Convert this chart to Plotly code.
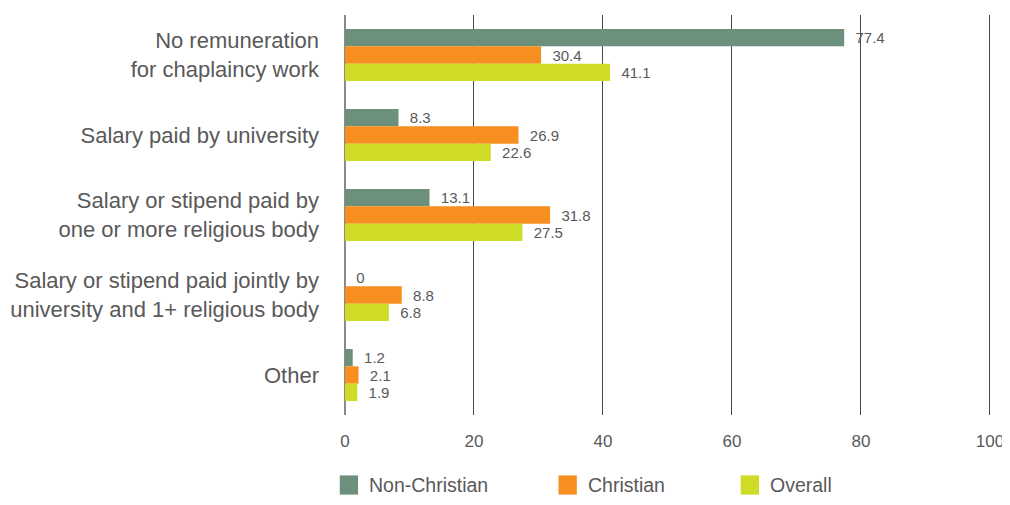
import plotly.graph_objects as go

categories = [
    "No remuneration<br>for chaplaincy work",
    "Salary paid by university",
    "Salary or stipend paid by<br>one or more religious body",
    "Salary or stipend paid jointly by<br>university and 1+ religious body",
    "Other",
]
non_christian = [77.4, 8.3, 13.1, 0, 1.2]
christian = [30.4, 26.9, 31.8, 8.8, 2.1]
overall = [41.1, 22.6, 27.5, 6.8, 1.9]
x_ticks = [0, 20, 40, 60, 80, 100]

series = [
    ("Non-Christian", non_christian, "#6d907d"),
    ("Christian", christian, "#f68f1f"),
    ("Overall", overall, "#cfdc26"),
]
legend_x = [-0.008, 0.327, 0.606]  # paper positions of legend swatches

FONT = "Liberation Sans, Arial, sans-serif"
TXT = "#595959"

fig = go.Figure()
for name, vals, color in series:
    fig.add_trace(go.Bar(
        y=categories, x=vals, name=name, orientation="h",
        marker=dict(color=color, line=dict(width=0)),
        text=vals, texttemplate="\u00a0\u00a0%{x}", textposition="outside",
        textfont=dict(size=15, color=TXT, family=FONT),
        cliponaxis=False, showlegend=False,
    ))

# manual legend
for (name, vals, color), lx in zip(series, legend_x):
    fig.add_shape(type="rect", xref="paper", yref="paper",
                  x0=lx, x1=lx + 0.028, y0=-0.199, y1=-0.151,
                  fillcolor=color, line=dict(width=0))
    fig.add_annotation(xref="paper", yref="paper", x=lx + 0.042, y=-0.175,
                       text=name, showarrow=False, xanchor="left", yanchor="middle",
                       font=dict(size=19.5, color=TXT, family=FONT))

# page body has an 8px margin, so the figure is smaller than the window
fig.update_layout(
    barmode="group", bargap=0.35, bargroupgap=0,
    width=1002, height=489,
    margin=dict(l=337, r=12, t=7, b=82, autoexpand=False),
    paper_bgcolor="white", plot_bgcolor="white",
    font=dict(family=FONT, color=TXT),
    showlegend=False,
    xaxis=dict(
        range=[0, 101.25], tickvals=x_ticks, showgrid=True,
        gridcolor="#4a4a4a", gridwidth=1,
        zeroline=True, zerolinecolor="#8a8a8a", zerolinewidth=2,
        showline=False, ticks="", automargin=False,
        tickfont=dict(size=17, color=TXT, family=FONT),
        ticklabelstandoff=14,
    ),
    yaxis=dict(
        autorange="reversed", showgrid=False, ticks="", automargin=False,
        tickfont=dict(size=22, color=TXT, family=FONT),
        ticklabelstandoff=25,
    ),
)

fig.write_html("out.html")
